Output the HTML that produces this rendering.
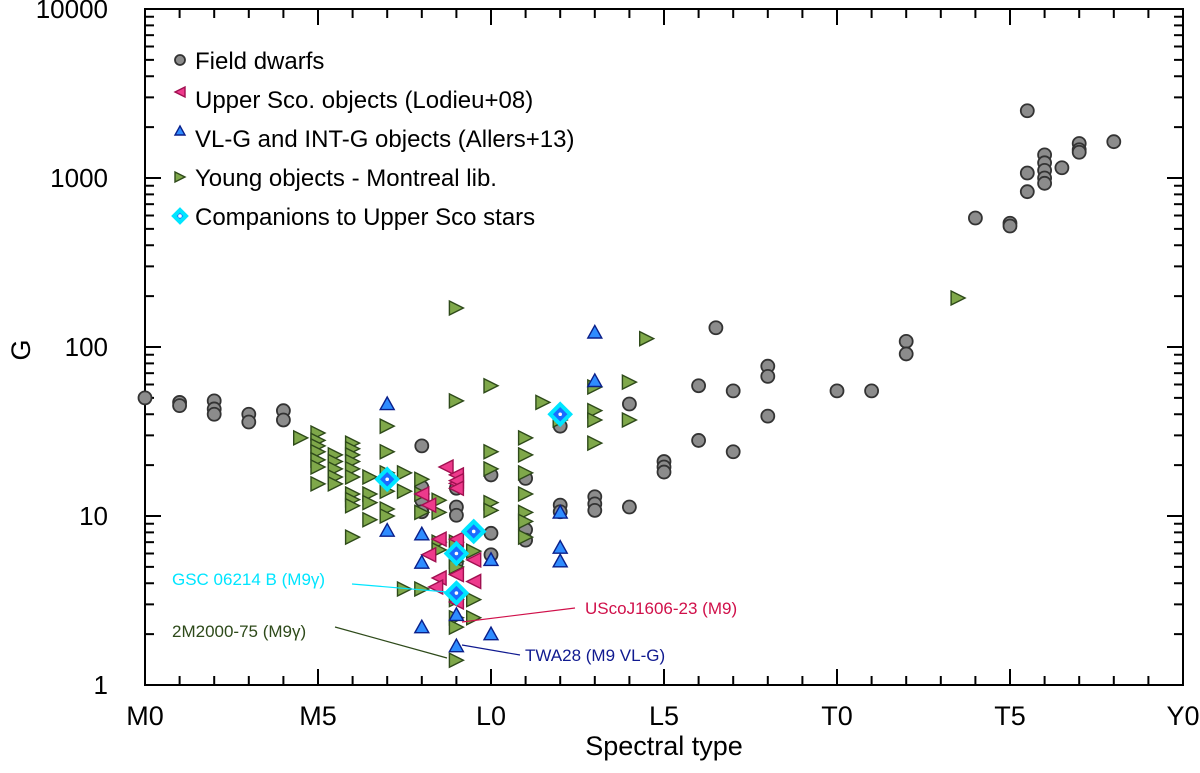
<!DOCTYPE html>
<html><head><meta charset="utf-8"><style>
body{margin:0;background:#fff;}
svg text{font-family:"Liberation Sans",Arial,sans-serif;}
</style></head><body>
<svg id="chart" width="1200" height="768" viewBox="0 0 1200 768" xmlns="http://www.w3.org/2000/svg">
<g id="axes"></g>
<g id="marks"></g>
<g id="annot"></g>
<g id="legend"></g>
</svg>
<script>
// spectral type index: M0=0, L0=10, T0=20, Y0=30
const xTickLabels=["M0","M5","L0","L5","T0","T5","Y0"];
const yTickLabels=["1","10","100","1000","10000"];
const fieldS=[0,1,1,2,2,2,3,3,4,4,8,8,8,8,9,9,9,9,9,10,10,10,11,11,11,12,12,12,13,13,13,14,14,15,15,15,16,16,16.5,17,17,18,18,18,20,21,22,22,24,25,25,25.5,25.5,25.5,26,26,26,26,26,26.5,27,27,27,28];
const fieldG=[50,47,45,48,43,40,40,36,42,37,26,14.8,12.4,10.6,14.6,11.3,10.1,6.6,5.3,17.5,7.9,5.9,16.7,8.3,7.2,34,11.6,10.6,13,11.8,10.8,46,11.3,21,19.5,18.2,59,28,130,55,24,77,67,39,55,55,108,91,580,540,520,2500,1070,830,1370,1230,1110,1000,930,1150,1600,1470,1420,1640];
const uscoS=[8.7,9,8.0,8.2,9.0,9.0,9.0,9.0,8.5,8.2,9.5,9.0,8.5,8.4,9.5,9.0];
const uscoG=[19.5,15.6,13.5,11.6,17.5,16.2,14.6,7.3,7.3,5.9,5.5,4.5,4.3,3.8,4.1,3.1];
const vlgS=[7,7,8,8,8,9,9,10,10,12,12,12,13,13];
const vlgG=[46,8.2,7.8,5.3,2.2,2.6,1.7,5.5,2.0,10.5,6.5,5.4,122,63];
const youngS=[4.5,5,5,5,5,5,5,5,5.5,5.5,5.5,5.5,5.5,6,6,6,6,6,6,6,6,6,6,6.5,6.5,6.5,6.5,7,7,7,7,7,7,7.5,7.5,8,8,8,8.5,8.5,8.5,8.5,9,9,9,9,9,9,9,9,9,9.5,9.5,9.5,8,7.5,10,10,10,10,10,11,11,11,11,11,11,11,11.5,12,13,13,13,13,14,14,14.5,23.5];
const youngG=[29,31,28,26,24,21.5,19.5,15.5,23,21,19,17,15.5,27,25,23,21,19,17,13.5,12.5,11.5,7.5,17,13.5,12,9.5,34,24,18,14,11,10,18,14,16.5,13.5,10.5,12.4,10.5,7,6.3,170,48,7,5.4,5,3.2,2.5,2.2,1.4,6.2,3.2,2.5,3.7,3.7,59,24,19,12,10.8,29,23,18,13.5,10.5,9.3,7.5,47,37,58,42,37,27,62,37,112,195];
const compS=[7,9,9.5,9,12];
const compG=[16.5,6,8.1,3.5,40];

const X0=145,X1=1183,Y0=685,Y1=9;
const xs=s=>X0+(X1-X0)*s/30;
const ys=g=>Y0-(Y0-Y1)*Math.log10(g)/4;
const NS="http://www.w3.org/2000/svg";
function mk(tag,attrs,parent){const e=document.createElementNS(NS,tag);for(const k in attrs)e.setAttribute(k,attrs[k]);parent.appendChild(e);return e;}
const axes=document.getElementById('axes'),marks=document.getElementById('marks'),annot=document.getElementById('annot'),legend=document.getElementById('legend');

const frame=mk('rect',{x:X0,y:Y1,width:X1-X0,height:Y0-Y1,fill:'none',stroke:'#000','stroke-width':2},axes);


for(let s=0;s<=30;s++){
  const L=(s%5===0)?16:9,x=xs(s);
  const t=mk('line',{x1:x,x2:x,y1:Y0,y2:Y0-L,stroke:'#000','stroke-width':2},axes);
  
  
  mk('line',{x1:x,x2:x,y1:Y1,y2:Y1+L,stroke:'#000','stroke-width':2},axes);
}
xTickLabels.forEach((lab,i)=>{
  const t=mk('text',{x:xs(i*5),y:725,'font-size':27,'text-anchor':'middle'},axes);t.textContent=lab;
  
  
});
for(let d=0;d<4;d++){for(let m=1;m<=10;m++){
  const g=m*Math.pow(10,d),y=ys(g),L=(m===1||m===10)?16:9;
  mk('line',{x1:X0,x2:X0+L,y1:y,y2:y,stroke:'#000','stroke-width':2},axes);
  mk('line',{x1:X1,x2:X1-L,y1:y,y2:y,stroke:'#000','stroke-width':2},axes);
}}
yTickLabels.forEach((lab,i)=>{
  const t=mk('text',{x:108,y:ys(Math.pow(10,i))+9,'font-size':26,'text-anchor':'end'},axes);t.textContent=lab;
  
  
});
const xt=mk('text',{x:664,y:755,'font-size':27,'text-anchor':'middle'},axes);xt.textContent='Spectral type';


const yt=mk('text',{x:0,y:0,'font-size':27,'text-anchor':'middle',transform:'translate(30,350) rotate(-90)'},axes);yt.textContent='G';



function circle(x,y,p,r){return mk('circle',{cx:x,cy:y,r:r||6.5,fill:'#8c8c8c',stroke:'#333','stroke-width':1.8},p);}
function tri(x,y,dir,fill,stroke,p,sz){sz=sz||7;let pts;
  if(dir==='left')pts=[[x+sz,y-sz],[x+sz,y+sz],[x-sz,y]];
  else if(dir==='right')pts=[[x-sz,y-sz],[x-sz,y+sz],[x+sz,y]];
  else pts=[[x-sz,y+sz*0.8],[x+sz,y+sz*0.8],[x,y-sz]];
  return mk('polygon',{points:pts.map(q=>q.join(',')).join(' '),fill:fill,stroke:stroke,'stroke-width':1.4},p);}
function diamond(x,y,p,sz){sz=sz||10;
  const g=mk('g',{},p);
  mk('polygon',{points:`${x},${y-sz} ${x+sz},${y} ${x},${y+sz} ${x-sz},${y}`,fill:'#1a6cff',stroke:'#00e5ff','stroke-width':4},g);
  mk('circle',{cx:x,cy:y,r:1.8,fill:'#fff'},g);return g;}

fieldS.forEach((s,i)=>{const e=circle(xs(s),ys(fieldG[i]),marks);
  
  });
youngS.forEach((s,i)=>{const e=tri(xs(s),ys(youngG[i]),'right','#7fa84a','#2e4a1a',marks);
  
  });
uscoS.forEach((s,i)=>{const e=tri(xs(s),ys(uscoG[i]),'left','#ee3a8c','#a01050',marks);
  
  });
vlgS.forEach((s,i)=>{const e=tri(xs(s),ys(vlgG[i]),'up','#2f8cff','#0a1f8a',marks);
  
  });
compS.forEach((s,i)=>{const e=diamond(xs(s),ys(compG[i]),marks);
  
  });

const ann=[
 ['GSC 06214 B (M9γ)',172,585,'#00e5ff',352,584,447,592,'start'],
 ['UScoJ1606-23 (M9)',585,614,'#d0104a',575,608,462,622,'start'],
 ['2M2000-75 (M9γ)',172,637,'#2e4a1a',335,627,447,658,'start'],
 ['TWA28 (M9 VL-G)',525,661,'#101a90',520,655,462,645,'start']];
ann.forEach(a=>{
  const l=mk('line',{x1:a[4],y1:a[5],x2:a[6],y2:a[7],stroke:a[3],'stroke-width':1.2},annot);
  
  
  const t=mk('text',{x:a[1],y:a[2],'font-size':17,fill:a[3]},annot);t.textContent=a[0];
  
  
});

const leg=[['Field dwarfs','c'],['Upper Sco. objects (Lodieu+08)','l'],['VL-G and INT-G objects (Allers+13)','u'],['Young objects - Montreal lib.','r'],['Companions to Upper Sco stars','d']];
leg.forEach((e,i)=>{
  const y=60+i*39,x=180;
  let m;
  if(e[1]==='c')m=circle(x,y,legend,5);
  else if(e[1]==='l')m=tri(x,y-7,'left','#ee3a8c','#a01050',legend,5);
  else if(e[1]==='u')m=tri(x,y-7,'up','#2f8cff','#0a1f8a',legend,5);
  else if(e[1]==='r')m=tri(x,y,'right','#7fa84a','#2e4a1a',legend,5);
  else m=diamond(x,y,legend,6);
  
  
  const t=mk('text',{x:195,y:y+9,'font-size':24},legend);t.textContent=e[0];
  
  
});
</script>
</body></html>
